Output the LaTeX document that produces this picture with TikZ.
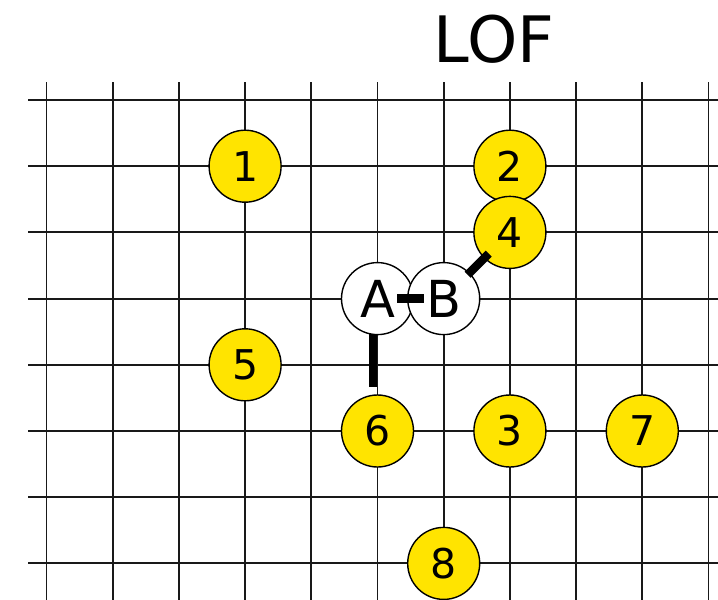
\documentclass[tikz,border=0pt]{standalone}
\usepackage{fontspec}
\setmainfont{DejaVu Sans}
\usetikzlibrary{calc}
\definecolor{nodeyellow}{RGB}{255,228,0}
\definecolor{gridcol}{RGB}{25,25,25}
\begin{document}
\begin{tikzpicture}[x=1pt,y=-1pt,
  gridline/.style={draw=gridcol,line width=1.9pt},
  site/.style={circle,draw=black,line width=1.4pt,fill=nodeyellow,minimum size=72pt,inner sep=0pt,font=\fontsize{41}{41}\selectfont},
  atom/.style={site,fill=white,font=\fontsize{51}{51}\selectfont},
  bond/.style={line width=8.5pt,black}]
\useasboundingbox (0,0) rectangle (718,600);
\begin{scope}
\clip (0,0) rectangle (718,600);
\foreach \i in {0,...,10} \draw[gridline] (46.5+66.2*\i,82) -- (46.5+66.2*\i,620);
\foreach \j in {0,...,7} \draw[gridline] (28,100+66.2*\j) -- (740,100+66.2*\j);
\end{scope}
\node[font=\fontsize{64}{64}\selectfont,anchor=base,inner sep=0pt] (title) at (494,62) {LOF};
\node[site] (n1) at (245.1,166.2) {1};
\node[site] (n2) at (509.9,166.2) {2};
\node[site] (n4) at (509.9,232.4) {4};
\node[site] (n5) at (245.1,364.8) {5};
\node[site] (n6) at (377.5,431) {6};
\node[site] (n3) at (509.9,431) {3};
\node[site] (n7) at (642.3,431) {7};
\node[site] (n8) at (443.7,563.4) {8};
\node[atom] (A) at (377.5,298.6) {A};
\node[atom] (B) at (443.7,298.6) {B};
\draw[bond] ($(A)!0.3!(B)$) -- ($(A)!0.7!(B)$);
\draw[bond] ($(B)!0.36!(n4)$) -- ($(B)!0.68!(n4)$);
\draw[bond] ($(A)!0.27!(n6)+(-4.5,0)$) -- ($(A)!0.67!(n6)+(-4.5,0)$);
\end{tikzpicture}
\end{document}
